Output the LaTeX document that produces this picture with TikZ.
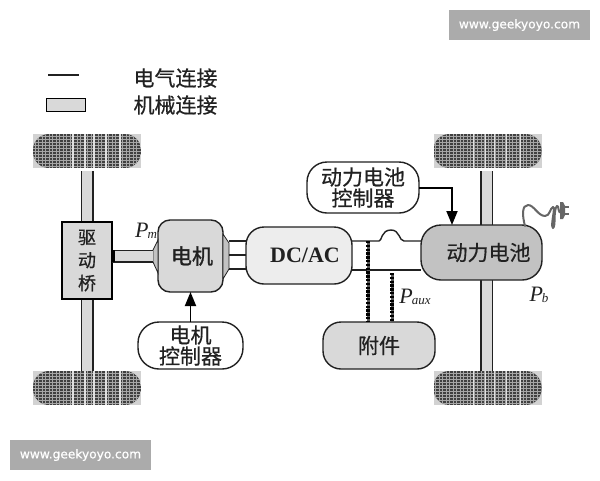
\documentclass[tikz,border=0pt]{standalone}
\usepackage{fontspec}
\setmainfont[FakeBold=0.6]{Noto Sans CJK SC}
\newfontfamily\cjkheavy[FakeBold=1.4]{Noto Sans CJK SC}
\newfontfamily\serifit[Ligatures=TeX]{Liberation Serif}
\newfontfamily\wmfont[FakeBold=0.5]{DejaVu Sans}
\usetikzlibrary{arrows.meta,calc}
\definecolor{ink}{gray}{0.13}
\definecolor{fillA}{gray}{0.85}
\definecolor{fillB}{gray}{0.76}
\definecolor{fillC}{gray}{0.93}
\newcommand{\plab}[2]{{\serifit\fontsize{22}{22}\selectfont\itshape #1\kern-1pt\raisebox{-1pt}{\fontsize{13}{13}\selectfont #2}}}
\tikzset{
  x=1pt,y=-1pt,
  every node/.style={inner sep=0pt,outer sep=0pt,text=ink},
  ubox/.style={draw=ink,line width=1.4pt,rounded corners=#1,align=center,font=\fontsize{21}{21}\selectfont},
  ubox/.default=14pt,
  wheelbox/.style={minimum width=108pt,minimum height=34pt,fill=gray!35,
    path picture={
      \fill[gray!35] (path picture bounding box.south west) rectangle (path picture bounding box.north east);
      \begin{scope}
        \clip[rounded corners=16pt] (path picture bounding box.south west) rectangle (path picture bounding box.north east);
        \fill[black!75] (path picture bounding box.south west) rectangle (path picture bounding box.north east);
        \begin{scope}[shift={(path picture bounding box.center)}]
          \foreach \k in {-15,-12,...,15} \draw[white!65!black,line width=.7pt] (-54,\k) -- (54,\k);
          \foreach \k in {-52,-48.5,...,52} \draw[white!65!black,line width=.7pt] (\k,-17) -- (\k,17);
          \foreach \k in {-14,-2,7,19,33} \draw[white!88!black,line width=1.3pt] (\k,-17) -- (\k,17);
        \end{scope}
      \end{scope}
    }},
  shaft/.style={draw=fillA,line width=10pt,preaction={draw=ink,line width=13pt}},
  elec/.style={draw=ink,line width=1.4pt},
  dotline/.style={draw=black,line width=3.6pt,dash pattern=on 2.4pt off 1.4pt,preaction={draw=gray!70!black,line width=3pt,dash pattern=on 1pt off 0pt}},
  ctrl/.style={draw=black,line width=1.8pt,-{Triangle[length=14pt,width=11pt]}},
  wm/.style={fill=gray!66,minimum width=141pt,minimum height=30pt,text=white,font=\wmfont\fontsize{12.2}{13}\selectfont},
}
\begin{document}
\begin{tikzpicture}
\useasboundingbox[fill=white] (0,0) rectangle (600,480);

% watermarks
\node[wm] (wmtop) at (519.5,25) {www.geekyoyo.com};
\node[wm] (wmbot) at (80.5,455) {www.geekyoyo.com};

% legend
\coordinate (lega) at (48,75);
\coordinate (legb) at (79,75);
\draw[line width=1.4pt,draw=ink] (lega) -- (legb);
\node[draw=black,line width=1.5pt,fill=fillA,minimum width=39pt,minimum height=13pt] (legbox) at (66,105) {};
\node[font=\fontsize{21}{21}\selectfont] (legt1) at (175.5,78) {电气连接};
\node[font=\fontsize{21}{21}\selectfont] (legt2) at (175.5,105) {机械连接};

% wheels
\node[wheelbox] (wtl) at (87,151) {};
\node[wheelbox] (wbl) at (87,388) {};
\node[wheelbox] (wtr) at (487.5,151) {};
\node[wheelbox] (wbr) at (487.5,388) {};

% axles
\draw[shaft,shorten <=3pt] (wtl.south) -- ++(0,60);
\draw[shaft] (wbl.north) -- ++(0,-80);
\draw[shaft,shorten <=3pt] ([xshift=-1pt]wtr.south) -- ++(0,60);
\draw[shaft] ([xshift=-1pt]wbr.north) -- ++(0,-100);

% main blocks
\node[draw=black,line width=1.5pt,fill=fillA,minimum width=50pt,minimum height=77pt,align=center,font=\fontsize{18}{23}\selectfont] (axle) at (87,260.5) {驱\\动\\桥};
\node[ubox=12pt,fill=fillA,minimum width=65pt,minimum height=72pt,font=\cjkheavy\fontsize{21}{21}\selectfont] (motor) at (190.5,256) {\hspace*{3pt}电机};
\node[ubox=18pt,fill=fillC,minimum width=106pt,minimum height=57pt,font=\serifit\bfseries\fontsize{22}{22}\selectfont] (dcac) at (299,255.5) {\hspace*{12pt}DC/AC};
\node[ubox=20pt,fill=fillB,minimum width=121pt,minimum height=55pt] (batt) at (481.5,252.5) {\hspace*{14pt}动力电池};
\node[ubox=18pt,fill=fillA,minimum width=112pt,minimum height=47pt] (aux) at (379,345.5) {附件};
\node[ubox=21pt,fill=white,minimum width=105pt,minimum height=47pt] (mctrl) at (190.5,345.5) {电机\\控制器};
\node[ubox=20pt,fill=white,minimum width=112pt,minimum height=51pt] (bctrl) at (363,187.5) {动力电池\\控制器};

% motor cones and shafts
\coordinate (shaftL) at (153,256);
\fill[draw=ink,line width=.8pt,fill=fillB] (158,240) -- (153,250) -- (153,262) -- (158,273) -- cycle;
\fill[draw=ink,line width=.8pt,fill=fillB] (223,234) -- (229,243) -- (229,269) -- (223,279) -- cycle;
\draw[shaft] (axle.east |- shaftL) -- (shaftL);
\draw[line width=4pt,draw=black] ([xshift=1pt]axle.east |- shaftL) ++(0,-6) -- ++(0,12);

% motor to DC/AC
\coordinate (m1) at (229,241);
\coordinate (m2) at (229,255);
\coordinate (m3) at (229,269);
\foreach \n in {m1,m2,m3} \draw[elec] (\n) -- (dcac.west |- \n);

% DC/AC to battery
\coordinate (b1) at (379,241);
\coordinate (b2) at (404,241);
\coordinate (b3) at (352,270);
\draw[elec] (dcac.east |- b1) -- (b1) .. controls (382,241) and (381,230) .. (391,230) .. controls (400,230) and (399,241) .. (b2) -- (batt.west |- b2);
\draw[elec] (dcac.east |- b3) -- (batt.west |- b3);

% auxiliary links
\coordinate (d1) at (368,241);
\coordinate (d2) at (392,273);
\draw[dotline] (d1) -- (d1 |- aux.north);
\draw[dotline] (d2) -- (d2 |- aux.north);

% control arrows
\draw[ctrl] (mctrl.north) -- (motor.south);
\coordinate (bend) at (452,188);
\draw[ctrl] (bctrl.east |- bend) -- (bend) -- (bend |- batt.north);

% plug
\coordinate (plugA) at (525,226);
\draw[draw=gray!80!black,line width=2pt,line cap=round,line join=round]
  (plugA) .. controls (522,215) and (522,205) .. (528,205)
  .. controls (534,205) and (538,216) .. (545,216)
  .. controls (550,216) and (550,208) .. (553,207)
  .. controls (556,207) and (550,226) .. (553,228)
  .. controls (556,226) and (553,210) .. (557,206)
  .. controls (559,204) and (558,216) .. (561,211);
\fill[gray!80!black] (560,202) -- (563,202) -- (565,206) -- (565,215) -- (563,219) -- (560,219) -- cycle;
\draw[draw=gray!80!black,line width=1.4pt] (564,207) -- (569,207) (564,214) -- (569,214);

% power labels
\node (pm) at (146,231) {\plab{P}{m}};
\node (paux) at (415,297) {\plab{P}{aux}};
\node (pb) at (539,295) {\plab{P}{b}};
\end{tikzpicture}
\end{document}
